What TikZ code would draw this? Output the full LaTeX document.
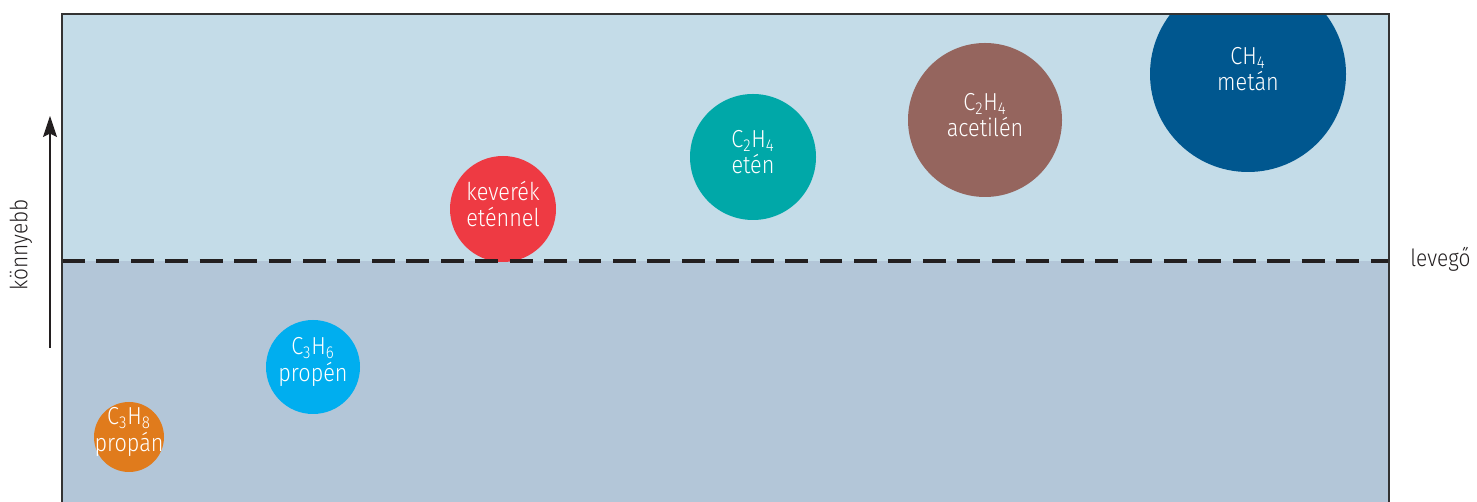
\documentclass[tikz,border=0pt]{standalone}
\usepackage{fontspec}
\setmainfont[FakeStretch=0.88]{Fira Sans Light}
\usetikzlibrary{arrows.meta}
\definecolor{upperColor}{HTML}{C4DCE8}
\definecolor{lowerColor}{HTML}{B3C6D8}
\definecolor{frameColor}{HTML}{333333}
\definecolor{metanColor}{HTML}{00578F}
\definecolor{acetilenColor}{HTML}{95655E}
\definecolor{etenColor}{HTML}{00A8A8}
\definecolor{keverekColor}{HTML}{EE3A43}
\definecolor{propenColor}{HTML}{00AEEF}
\definecolor{propanColor}{HTML}{E07B1C}
\definecolor{textColor}{HTML}{231F20}

\begin{document}
\begin{tikzpicture}[
x=0.02cm,y=-0.02cm,
gas/.style={circle,inner sep=0pt,minimum size={#1*0.02cm}},
gastext/.style={text=white,align=center,inner sep=0pt,yshift=0.1cm,
  font=\fontsize{14}{15}\selectfont},
side/.style={text=textColor,font=\fontsize{13.5}{16}\selectfont},
]
\useasboundingbox (0,0) rectangle (1477,502);
% the two layers
\fill[upperColor] (62,14) rectangle (1389,261);
\fill[lowerColor] (62,261) rectangle (1389,502);
% gases, clipped to the box
\begin{scope}
\clip (62,14) rectangle (1389,502);
\node[gas=196,fill=metanColor] (metan) at (1248,74) {};
\end{scope}
\node[gas=154,fill=acetilenColor] (acetilen) at (985,120) {};
\node[gas=126,fill=etenColor] (eten) at (753,157) {};
\node[gas=106,fill=keverekColor] (keverek) at (503,209) {};
\node[gas=94,fill=propenColor] (propen) at (313,367) {};
\node[gas=70,fill=propanColor] (propan) at (129,437) {};
% their names
\node[gastext] (metanText) at (metan) {CH\textsubscript{4}\\metán};
\node[gastext] (acetilenText) at (acetilen) {C\textsubscript{2}H\textsubscript{4}\\acetilén};
\node[gastext] (etenText) at (eten) {C\textsubscript{2}H\textsubscript{4}\\etén};
\node[gastext] (keverekText) at (keverek) {keverék\\eténnel};
\node[gastext] (propenText) at (propen) {C\textsubscript{3}H\textsubscript{6}\\propén};
\node[gastext] (propanText) at (propan) {C\textsubscript{3}H\textsubscript{8}\\propán};
% air level
\draw[textColor,line width=2.8pt,dash pattern=on 13pt off 6.6pt]
  (62,261) -- (1389,261);
\node[side,anchor=west,inner sep=0pt] (levego) at (1410,259) {levegő};
% frame
\draw[frameColor,line width=0.8pt] (62,502) -- (62,14) -- (1389,14) -- (1389,502);
% lighter upwards
\coordinate (arrowBottom) at (50,348);
\coordinate (arrowTop) at (50,116);
\draw[textColor,line width=0.6pt,-{Stealth[length=12pt,width=8pt,inset=2pt]}]
  (arrowBottom) -- (arrowTop);
\node[side,rotate=90] (konnyebb) at (21,245) {könnyebb};
\end{tikzpicture}
\end{document}
